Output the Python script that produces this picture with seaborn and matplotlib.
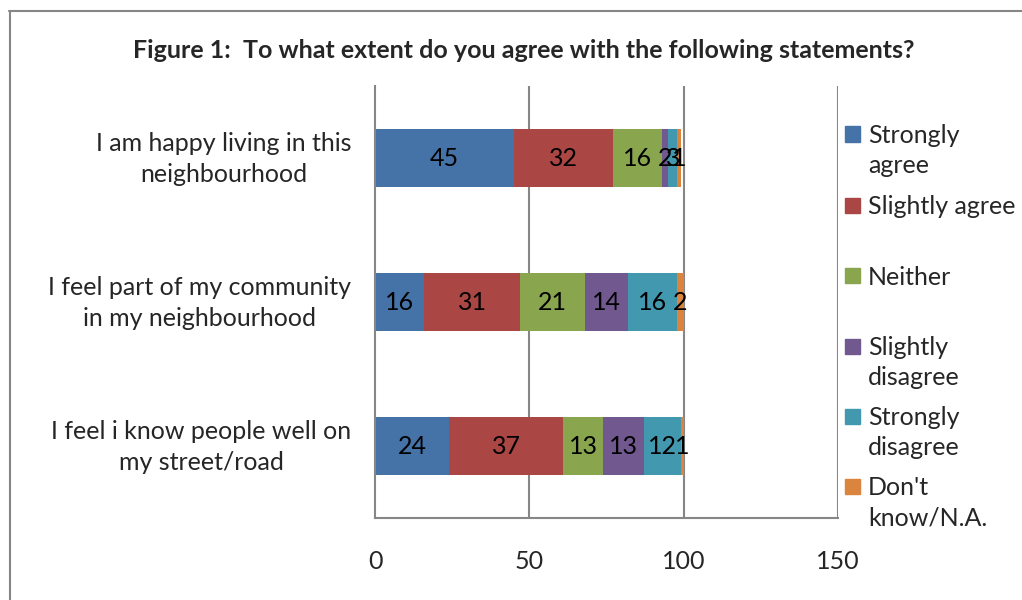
import matplotlib
matplotlib.use("Agg")
import matplotlib.pyplot as plt
import matplotlib.transforms as mtransforms
from matplotlib.lines import Line2D
from matplotlib.patches import Rectangle
import seaborn as sns
import pandas as pd

# ---- data -------------------------------------------------------------
statements = [
    "I am happy living in this\nneighbourhood",
    "I feel part of my community\nin my neighbourhood",
    "I feel i know people well on\nmy street/road",
]
responses = ["Strongly agree", "Slightly agree", "Neither",
             "Slightly disagree", "Strongly disagree", "Don't know/N.A."]
legend_labels = ["Strongly\nagree", "Slightly agree", "Neither",
                 "Slightly\ndisagree", "Strongly\ndisagree", "Don't\nknow/N.A."]
strongly_agree = [45, 16, 24]
slightly_agree = [32, 31, 37]
neither = [16, 21, 13]
slightly_disagree = [2, 14, 13]
strongly_disagree = [3, 16, 12]
dont_know = [1, 2, 1]
x_ticks = [0, 50, 100, 150]
title = "Figure 1:  To what extent do you agree with the following statements?"

colors = ["#4572A7", "#AA4643", "#89A54E", "#71588F", "#4198AF", "#DB843D"]
grey = "#868686"

df = pd.DataFrame(
    [strongly_agree, slightly_agree, neither, slightly_disagree,
     strongly_disagree, dont_know],
    index=responses, columns=statements).T
cum = df.cumsum(axis=1)

# ---- figure -----------------------------------------------------------
sns.set_style("white")
FONT = "Lato"
plt.rcParams["font.family"] = [FONT, "DejaVu Sans"]
FS = 18
FS_PX = FS * 100 / 72

W, H = 1022, 600
fig = plt.figure(figsize=(W / 100, H / 100), dpi=100)


def fx(px):
    return px / W


def fy(py):
    return 1 - py / H


ax = fig.add_axes([fx(375), fy(518), fx(838) - fx(375), fy(86) - fy(518)])

# stacked bars: draw running totals from the longest to the shortest
for i in reversed(range(len(responses))):
    sns.barplot(x=cum[responses[i]].values, y=statements, order=statements,
                color=colors[i], saturation=1, width=0.4, orient="h",
                linewidth=0, ax=ax)

# segment value labels
for r, st in enumerate(statements):
    for c, resp in enumerate(responses):
        v = df.loc[st, resp]
        ax.text(cum.loc[st, resp] - v / 2, r, f"{v}", ha="center",
                va="center", fontsize=FS, color="black")

ax.set_xlim(0, 150)
ax.set_ylim(2.5, -0.5)
ax.set_xticks(x_ticks)
ax.set_xticklabels([str(t) for t in x_ticks])
ax.set_xlabel("")
ax.set_ylabel("")

# axes styling
for s in ["top", "right"]:
    ax.spines[s].set_visible(False)
for s in ["left", "bottom"]:
    ax.spines[s].set_color(grey)
    ax.spines[s].set_linewidth(1.5)
for t in x_ticks[1:]:
    ax.axvline(t, color=grey, lw=1.5, zorder=0)

ax.tick_params(axis="x", which="major", length=6, width=1.5, color=grey,
               labelsize=FS, pad=17, direction="out")
ax.tick_params(axis="y", which="major", length=0, labelsize=FS, pad=17)
ax.set_yticks([-0.5, 0.5, 1.5, 2.5], minor=True)
ax.tick_params(axis="y", which="minor", length=6, width=1.5, color=grey,
               direction="out")
lift = mtransforms.ScaledTranslation(0, 5 / 100, fig.dpi_scale_trans)
for lab in ax.get_yticklabels():
    lab.set_multialignment("center")
    lab.set_linespacing(1.4)
    lab.set_transform(lab.get_transform() + lift)

# title
fig.text(fx(524), fy(50), title, ha="center", va="center",
         fontsize=18, fontweight="bold")

# legend: one coloured square per response, wrapped label lines 30 px apart
leg_y = [134, 205, 276, 346, 416, 486]
for lab, col, yc in zip(legend_labels, colors, leg_y):
    fig.add_artist(Rectangle((fx(845), fy(yc + 7.5)), fx(15), 15 / H,
                             transform=fig.transFigure, color=col))
    for k, line in enumerate(lab.split("\n")):
        fig.text(fx(868), fy(yc + 30 * k + 0.36 * FS_PX), line, ha="left",
                 va="baseline", fontsize=FS)

# frame around the chart area
fig.add_artist(Line2D([fx(9), 1], [fy(11), fy(11)], transform=fig.transFigure,
                      color=grey, lw=1.5))
fig.add_artist(Line2D([fx(9.5), fx(9.5)], [fy(11), 0],
                      transform=fig.transFigure, color=grey, lw=1.5))

fig.savefig("out.png", dpi=100)
